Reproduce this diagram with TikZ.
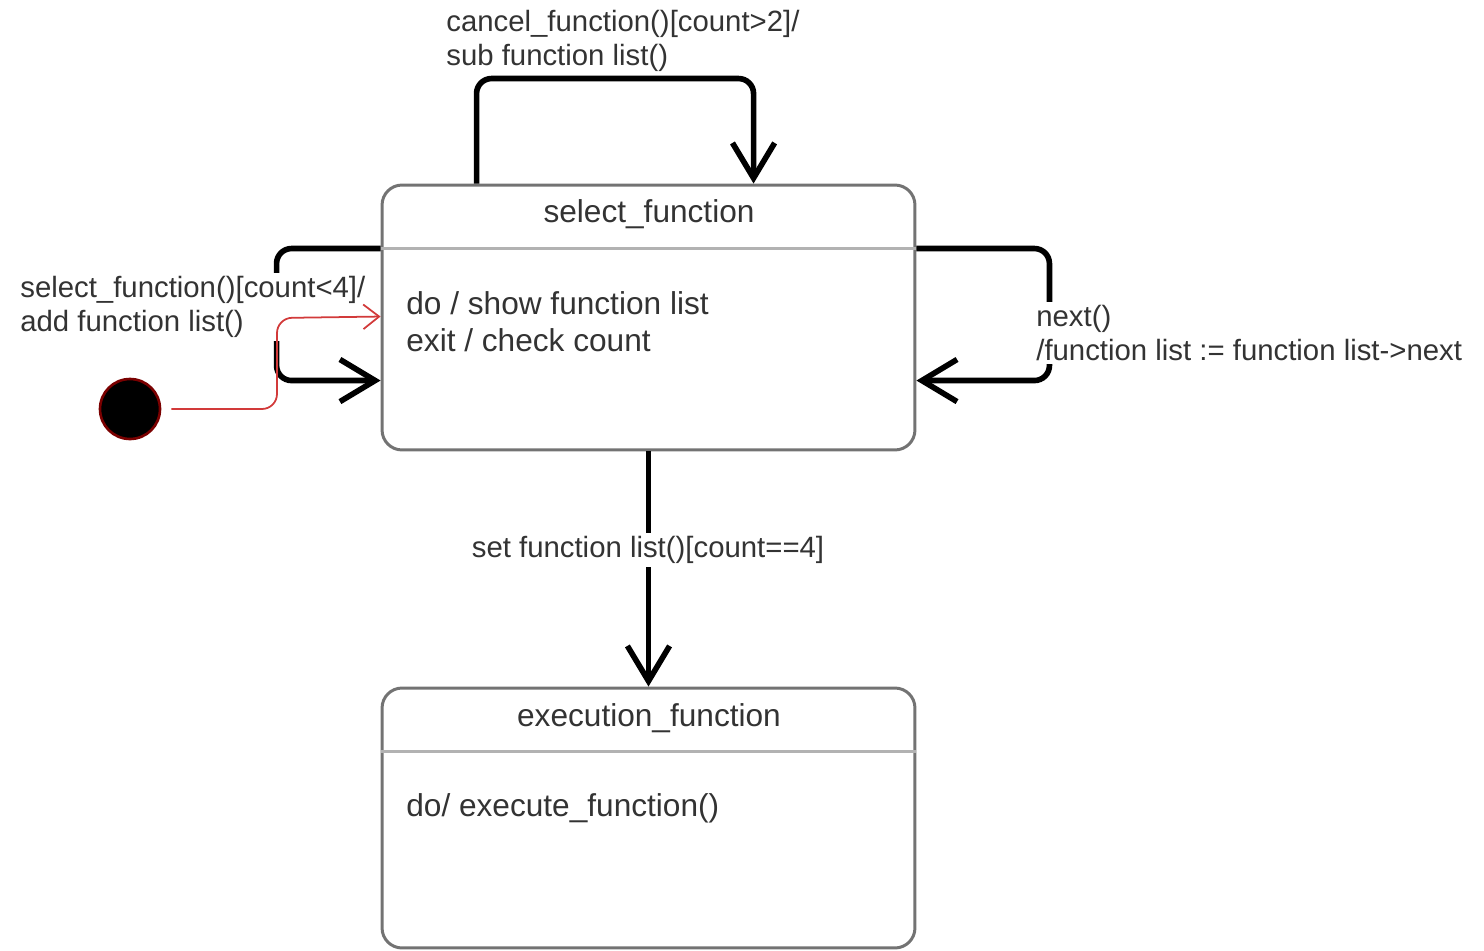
\documentclass[tikz,border=0pt]{standalone}
\usepackage{fontspec}
\setmainfont{Liberation Sans}
\usetikzlibrary{arrows.meta,calc}
\newcommand\colorStateborder{black!55}
\newcommand\colorStatedivider{black!30}
\newcommand\colorStatetext{black!80}
\definecolor{initred}{HTML}{D23A3A}
\definecolor{initdark}{HTML}{7A0000}

\tikzset{
	state/.style={draw=\colorStateborder, line width=1.7pt, rounded corners=0.4cm, minimum width=10.66cm, inner sep=0pt},
	statetext/.style={text=\colorStatetext, font=\fontsize{18}{21}\selectfont, align=left, inner sep=0pt},
	trans/.style={line width=3.2pt, rounded corners=0.3cm, -{Straight Barb[length=20pt,width=24pt]}},
	translabel/.style={text=\colorStatetext, font=\fontsize{16.7}{19.5}\selectfont, align=left, inner xsep=0pt, inner ysep=2pt},
}

\begin{document}
\begin{tikzpicture}[x=0.02cm, y=-0.02cm]
		\useasboundingbox (0,0) rectangle (1484,950);
	
		% states
		\node[state, minimum height=5.3cm] (sel) at (648.5,317.5) {};
		\node[state, minimum height=5.2cm] (exe) at (648.5,818) {};
	
		\foreach \s in {sel,exe}{
			\draw[color=\colorStatedivider, line width=2pt] ($(\s.north west)+(0,65)$) to ($(\s.north east)+(0,65)$);
		}
	
		\node[statetext] (seltitle) at (649,214) {select\_function};
		\node[statetext, anchor=west] (selbody) at (406,322) {do / show function list\\exit / check count};
		\node[statetext] (exetitle) at (649,718) {execution\_function};
		\node[statetext, anchor=west] (exebody) at (406,808) {do/ execute\_function()};
	
		% transitions
		\draw[trans] ($(sel.north west)+(96,0)$) -- ++(0,-105) -- ($(sel.north west)+(373,-105)$) -- ($(sel.north west)+(373,0)$);
		\draw[trans] ($(sel.north west)+(0,65)$) -- ++(-104,0) -- ($(sel.north west)+(-104,197)$) -- ($(sel.north west)+(0,197)$);
		\draw[trans] ($(sel.north east)+(0,65)$) -- ++(133,0) -- ($(sel.north east)+(133,197)$) -- ($(sel.north east)+(0,197)$);
		\draw[trans] (sel.south) -- (exe.north);
	
		\node[translabel, anchor=west] (lblcancel) at (446,41) {cancel\_function()[count>2]/\\sub function list()};
		\node[translabel, anchor=west, fill=white] (lblselect) at (20,307) {select\_function()[count<4]/\\add function list()};
		\node[translabel, anchor=west, fill=white] (lblnext) at (1036,333) {next()\\/function list := function list->next};
		\node[translabel, fill=white] (lblset) at (648,550) {set function list()[count==4]};
	
		% initial state
		\node[circle, fill=black, draw=initdark, line width=1.5pt, minimum size=1.2cm, inner sep=0pt] (init) at (130,409) {};
		\draw[initred, line width=1pt, rounded corners=0.3cm, shorten <=0.2cm, -{Straight Barb[length=9pt,width=14pt]}] (init) -- (277,409) -- (277,318) -- ($(sel.north west)+(0,133)$);
	\end{tikzpicture}
\end{document}
